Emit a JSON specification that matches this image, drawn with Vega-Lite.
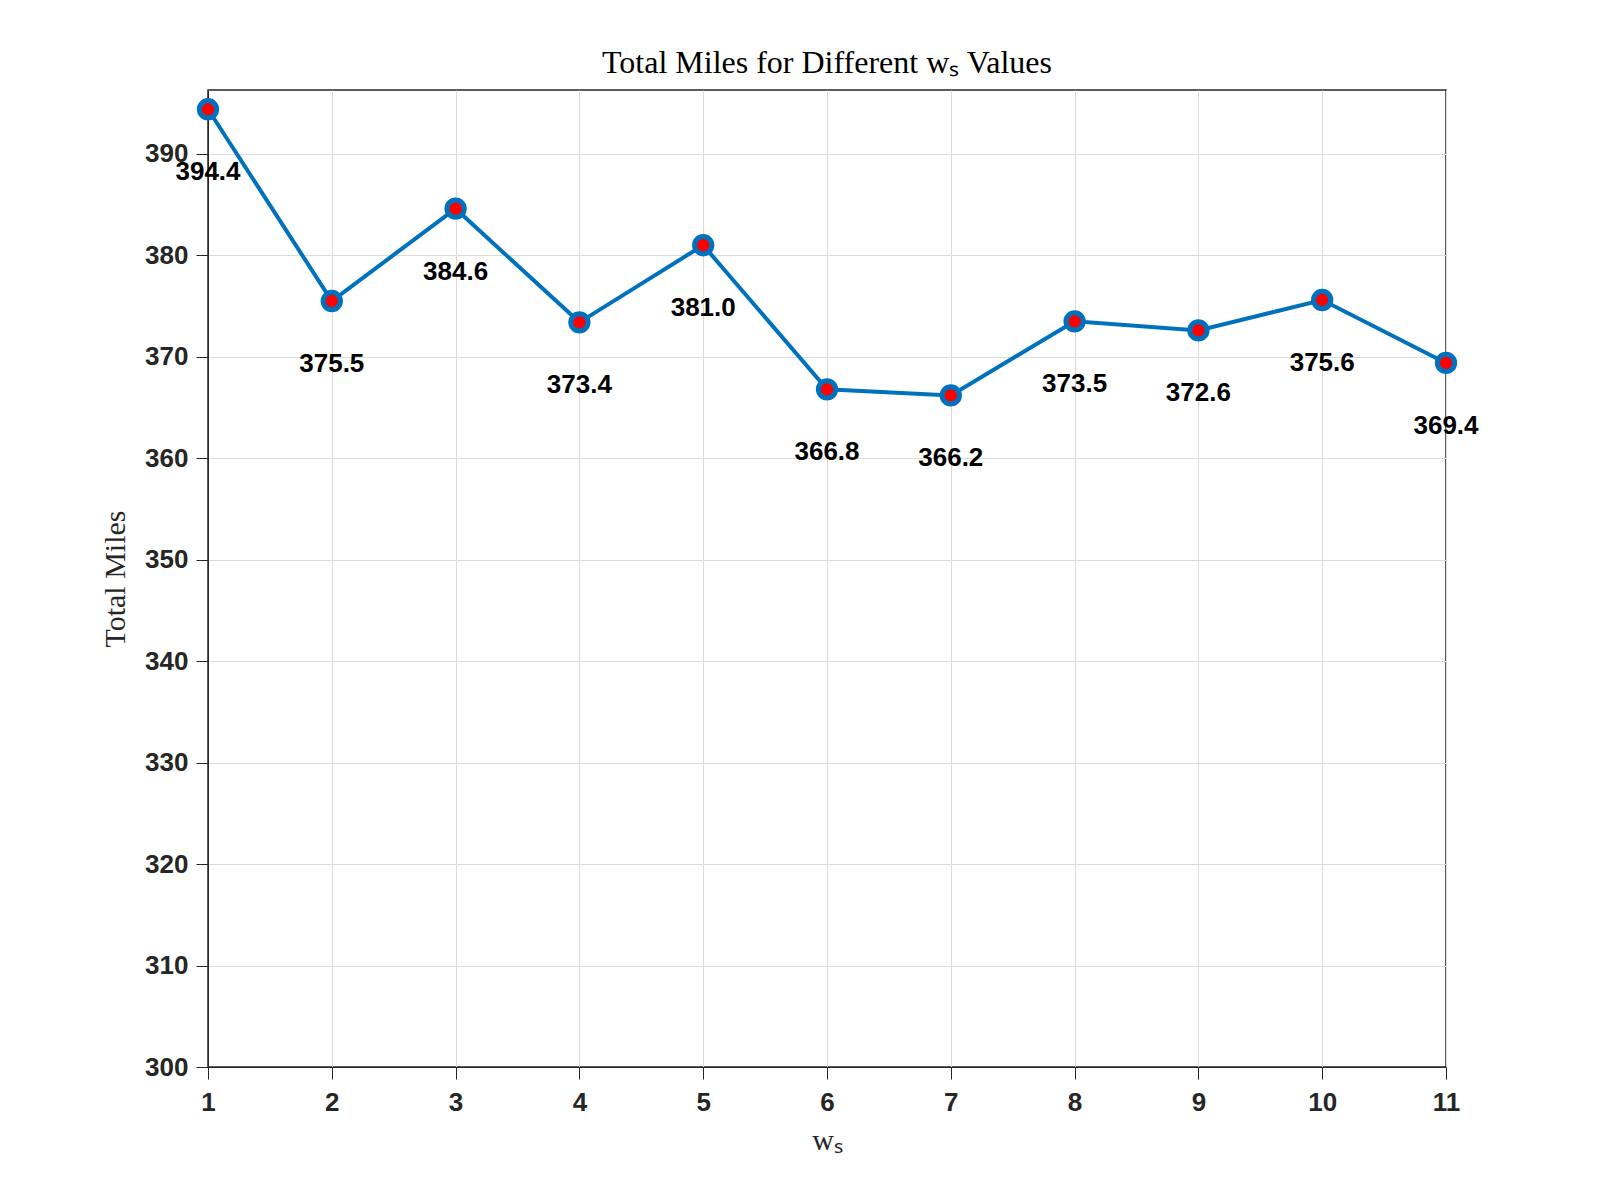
{
  "$schema": "https://vega.github.io/schema/vega-lite/v6.json",
  "width": 1238,
  "height": 977,
  "autosize": "none",
  "padding": {"left": 208, "top": 90, "right": 154, "bottom": 133},
  "background": "white",
  "config": {
    "font": "Liberation Sans",
    "view": {"stroke": "#262626", "strokeWidth": 1.5},
    "axis": {
      "labelFont": "Liberation Sans", "labelFontSize": 26, "labelFontWeight": "bold", "labelColor": "#262626", "labelFlush": false,
      "titleFont": "Liberation Serif", "titleFontSize": 30, "titleFontWeight": "normal", "titleColor": "#262626",
      "tickDirection": "inward", "ticks": true, "tickSize": 12, "tickColor": "#262626",
      "domainColor": "#262626", "gridColor": "#dcdcdc", "gridOpacity": 1
    }
  },
  "title": {"text": "Total Miles for Different wₛ Values", "font": "Liberation Serif", "fontSize": 32, "fontWeight": "normal", "color": "#000", "offset": 10},
  "data": {"values": [
    {"ws": 1, "miles": 394.4, "label": "394.4"},
    {"ws": 2, "miles": 375.5, "label": "375.5"},
    {"ws": 3, "miles": 384.6, "label": "384.6"},
    {"ws": 4, "miles": 373.4, "label": "373.4"},
    {"ws": 5, "miles": 381.0, "label": "381.0"},
    {"ws": 6, "miles": 366.8, "label": "366.8"},
    {"ws": 7, "miles": 366.2, "label": "366.2"},
    {"ws": 8, "miles": 373.5, "label": "373.5"},
    {"ws": 9, "miles": 372.6, "label": "372.6"},
    {"ws": 10, "miles": 375.6, "label": "375.6"},
    {"ws": 11, "miles": 369.4, "label": "369.4"}
  ]},
  "encoding": {
    "x": {"field": "ws", "type": "quantitative", "title": "wₛ", "scale": {"domain": [1, 11], "nice": false},
      "axis": {"values": [1,2,3,4,5,6,7,8,9,10,11], "labelPadding": 10, "titlePadding": 10}},
    "y": {"field": "miles", "type": "quantitative", "title": "Total Miles", "scale": {"domain": [300, 396.3], "nice": false},
      "axis": {"values": [300,310,320,330,340,350,360,370,380,390], "labelPadding": 8, "titlePadding": 14}}
  },
  "layer": [
    {"mark": {"type": "line", "color": "#0072BD", "strokeWidth": 4}},
    {"mark": {"type": "point", "filled": false, "fill": "#ff0000", "fillOpacity": 1, "stroke": "#0072BD", "strokeWidth": 5, "size": 300, "opacity": 1}},
    {"mark": {"type": "text", "dy": 63, "fontSize": 26, "fontWeight": "bold", "color": "#000", "font": "Liberation Sans"},
      "encoding": {"text": {"field": "label"}}}
  ]
}
